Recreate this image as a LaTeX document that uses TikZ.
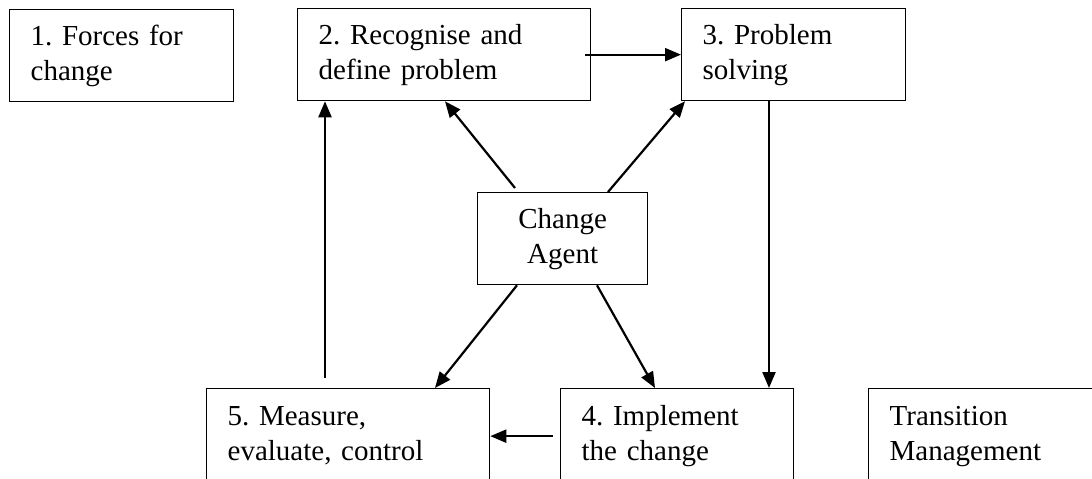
\documentclass[tikz,border=0pt]{standalone}
\usepackage{fontspec}
\setmainfont{Liberation Serif}
\usetikzlibrary{arrows.meta,positioning}
\tikzset{
  basic/.style  = {draw, line width=1.3pt, rectangle, inner xsep=21pt, inner ysep=0pt,
                   minimum height=92pt, font=\fontsize{29}{35}\selectfont\frenchspacing,
                   execute at begin node=\strut, execute at end node=\strut},
  stage/.style  = {basic, align=left, anchor=north west},
  agent/.style  = {basic, align=center, anchor=north west},
  lower/.style  = {stage, minimum height=95pt},
  arrow/.style  = {->, line width=2.2pt}
}

\begin{document}
\begin{tikzpicture}[x=1pt, y=-1pt,
    >={Triangle[length=16pt,width=13pt]}]
  \useasboundingbox (0,0) rectangle (1092,479);

  % top row of stages
  \node[stage, text width=182pt] (forces) at (9,9) {1. Forces for\\change};
  \node[stage, text width=251pt] (define) at (297,8) {2. Recognise and\\define problem};
  \node[stage, text width=182pt] (solve) at (681,8) {3. Problem\\solving};

  % the agent in the middle
  \node[agent, text width=128pt] (agent) at (477,192) {Change\\Agent};

  % bottom row, cut off by the page edge
  \node[lower, text width=241pt] (measure) at (206,388) {5. Measure,\\evaluate, control};
  \node[lower, text width=191pt] (implement) at (560,388) {4. Implement\\the change};
  \node[lower, text width=208pt] (transit) at (868,388) {Transition\\Management};

  % the cycle 2 -> 3 -> 4 -> 5 -> 2
  \draw[arrow] ([xshift=-6pt]define.east) -- (solve.west);
  \draw[arrow] ([xshift=88pt]solve.south west) -- ([xshift=209pt]implement.north west);
  \draw[arrow] ([xshift=-7pt]implement.west) -- (measure.east);
  \draw[arrow] ([xshift=119pt,yshift=10pt]measure.north west) -- ([xshift=28pt]define.south west);

  % lines out of the agent
  \draw[arrow] ([xshift=38pt,yshift=4pt]agent.north west) -- ([xshift=148pt]define.south west);
  \draw[arrow] ([xshift=131pt]agent.north west) -- ([xshift=4pt]solve.south west);
  \draw[arrow] ([xshift=40pt]agent.south west) -- ([xshift=229pt]measure.north west);
  \draw[arrow] ([xshift=120pt]agent.south west) -- ([xshift=95pt]implement.north west);
\end{tikzpicture}
\end{document}
